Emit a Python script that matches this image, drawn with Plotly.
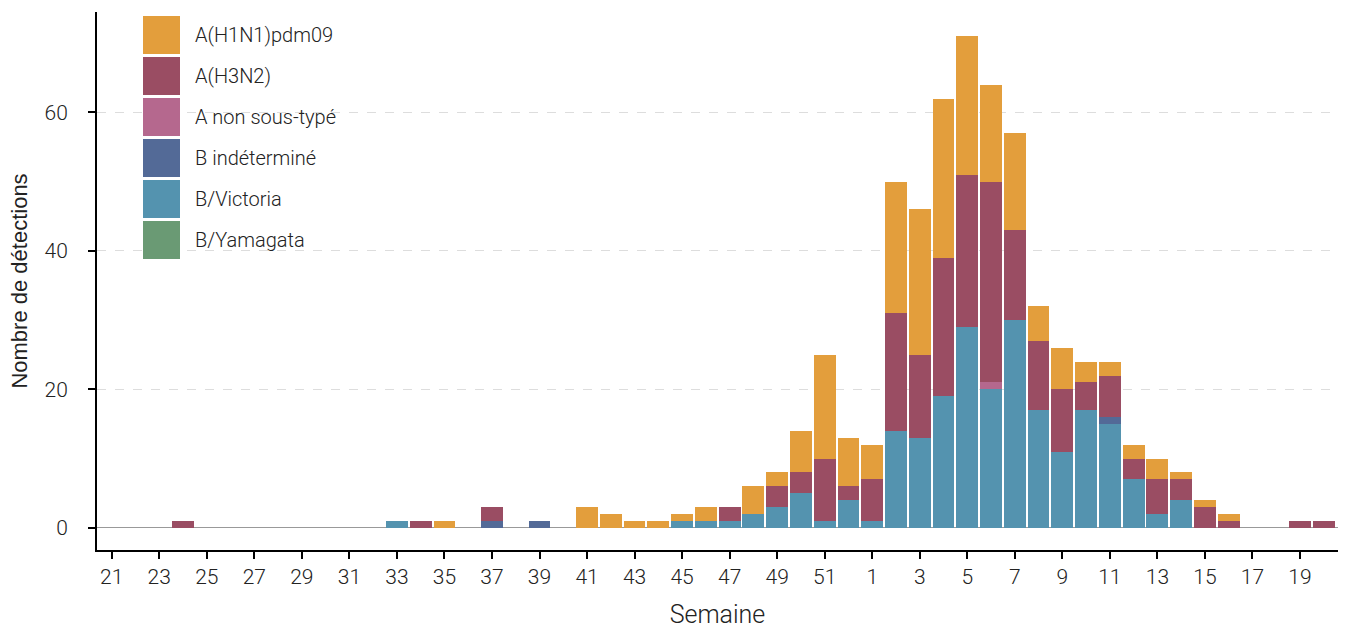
import plotly.graph_objects as go

weeks = [str(w) for w in list(range(21, 53)) + list(range(1, 21))]

# values per week (21..52, 1..20)
b_yamagata = [0]*52
b_victoria = [0,0,0,0,0,0,0,0,0,0,0,0, 1,0,0,0,0,0,0,0, 0,0,0,0, 1,1,1,2,3,5,1,4,
              1,14,13,19,29,20,30,17,11,17,15,7,2,4,0,0,0,0,0,0]
b_indet = [0,0,0,0,0,0,0,0,0,0,0,0, 0,0,0,0,1,0,1,0, 0,0,0,0, 0,0,0,0,0,0,0,0,
           0,0,0,0,0,0,0,0,0,0,1,0,0,0,0,0,0,0,0,0]
a_nonst = [0]*37 + [1] + [0]*14
a_h3n2 = [0,0,0,1,0,0,0,0,0,0,0,0, 0,1,0,0,2,0,0,0, 0,0,0,0, 0,0,2,0,3,3,9,2,
          6,17,12,20,22,29,13,10,9,4,6,3,5,3,3,1,0,0,1,1]
a_h1n1 = [0,0,0,0,0,0,0,0,0,0,0,0, 0,0,1,0,0,0,0,0, 3,2,1,1, 1,2,0,4,2,6,15,7,
          5,19,21,23,20,14,14,5,6,3,2,2,3,1,1,1,0,0,0,0]

series = [
    ("B/Yamagata", b_yamagata, "#6A9A74"),
    ("B/Victoria", b_victoria, "#5493AF"),
    ("B indéterminé", b_indet, "#536A97"),
    ("A non sous-typé", a_nonst, "#B5688E"),
    ("A(H3N2)", a_h3n2, "#9A4D63"),
    ("A(H1N1)pdm09", a_h1n1, "#E39E3C"),
]

tick_labels = [w for i, w in enumerate(weeks) if i % 2 == 0]

FONT = "Roboto"

fig = go.Figure()
for name, vals, col in series:
    fig.add_trace(go.Bar(x=weeks, y=vals, name=name, marker=dict(color=col, line=dict(width=0)),
                         showlegend=False))

FW, FH = 1351, 629
L, R, T, B = 97, 1338, 12, 550          # plot area in window pixels
W, H = R - L, B - T

# custom legend (large squares)
shapes = []
annotations = []
for k, (name, vals, col) in enumerate(reversed(series)):
    y0 = 16 + 41 * k
    shapes.append(dict(type="rect", xref="paper", yref="paper",
                       x0=(143 - L) / W, x1=(180 - L) / W,
                       y0=(B - y0) / H, y1=(B - (y0 + 38)) / H,
                       fillcolor=col, line=dict(width=0)))
    annotations.append(dict(xref="paper", yref="paper", x=(193 - L) / W, y=(B - (y0 + 19)) / H,
                            text=name, showarrow=False, xanchor="left", yanchor="middle",
                            font=dict(family=FONT, size=20, color="#222", weight=300)))

fig.update_layout(
    barmode="stack",
    bargap=0.08,
    width=FW, height=FH,
    margin=dict(l=L, r=FW - R, t=T, b=FH - B),
    plot_bgcolor="white", paper_bgcolor="white",
    font=dict(family=FONT, size=20, color="#222", weight=300),
    shapes=shapes,
    annotations=annotations,
    xaxis=dict(type="category", categoryorder="array", categoryarray=weeks,
               tickvals=tick_labels, ticktext=tick_labels,
               range=[-0.62, 51.6], automargin=False,
               showline=True, linecolor="black", linewidth=2,
               ticks="outside", ticklen=7, tickwidth=2, tickcolor="black",
               showgrid=False,
               title=dict(text="Semaine", font=dict(size=25, family=FONT, weight=300, color="#222"), standoff=32),
               tickfont=dict(size=21, family=FONT, weight=300, color="#222")),
    yaxis=dict(range=[-3.2, 74.5], tickvals=[0, 20, 40, 60], automargin=False,
               showline=True, linecolor="black", linewidth=2,
               ticks="outside", ticklen=7, tickwidth=2, tickcolor="black",
               ticklabelstandoff=16,
               showgrid=True, gridcolor="#DDDDDD", griddash="dash", gridwidth=1,
               zeroline=True, zerolinecolor="#999999", zerolinewidth=1,
               title=dict(text="Nombre de détections",
                          font=dict(size=22, family="Liberation Sans", color="#222"), standoff=11),
               tickfont=dict(size=21, family=FONT, weight=300, color="#222")),
)

fig.write_html("out.html", config={"displayModeBar": False},
               post_script="document.body.style.margin='0';document.body.style.overflow='hidden';")
